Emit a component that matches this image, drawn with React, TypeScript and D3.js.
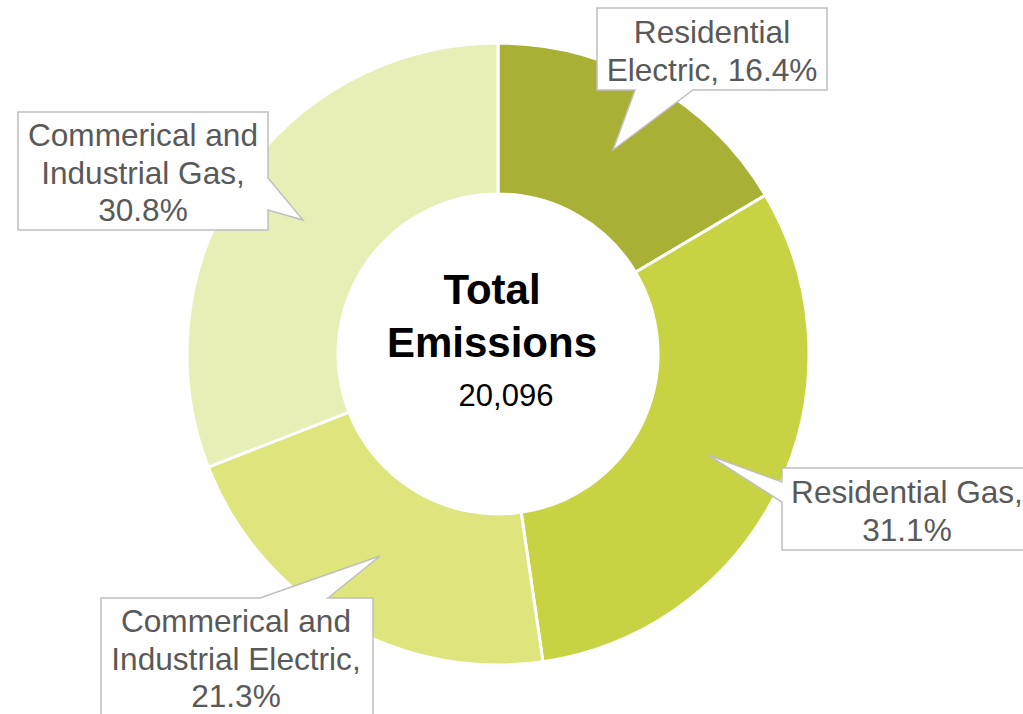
import React from "react";
import * as d3 from "d3";

const categories = [
  "Residential Electric",
  "Residential Gas",
  "Commerical and Industrial Electric",
  "Commerical and Industrial Gas",
];
const shares = [16.4, 31.1, 21.3, 30.8];
const labelLines = [
  ["Residential", "Electric, 16.4%"],
  ["Residential Gas,", "31.1%"],
  ["Commerical and", "Industrial Electric,", "21.3%"],
  ["Commerical and", "Industrial Gas,", "30.8%"],
];
const totalValue = 20096;

const colors = ["#A9B036", "#C7D343", "#DDE57C", "#E8EFB6"];

// callout layout (box + pointer) per slice
const callouts = [
  { path: "M597,8 H827 V90 H693 L613,150 L635,90 H597 Z", cx: 712, y0: 43, },
  { path: "M782,468 H1032 V550 H782 V502 L708,455 L782,482 Z", cx: 907, y0: 503 },
  { path: "M101,598 H260 L380,556 L328,598 H373 V722 H101 Z", cx: 236, y0: 632 },
  { path: "M18,112 H268 V178 L303,220 L268,210 V230 H18 Z", cx: 143, y0: 146 },
];

export default function App() {
  const W = 1023, H = 714;
  const cx = 498, cy = 354, rOuter = 311, rInner = 160;
  const pie = d3.pie<number>().sort(null).value((d) => d);
  const arcs = pie(shares);
  const arc = d3.arc<d3.PieArcDatum<number>>().innerRadius(rInner).outerRadius(rOuter);
  const fmt = d3.format(",");
  const font = "'Liberation Sans', Arial, sans-serif";
  return (
    <div style={{ position: "absolute", left: 0, top: 0 }}>
      <svg width={W} height={H} style={{ display: "block" }} fontFamily={font}>
        <rect width={W} height={H} fill="#fff" />
        <g transform={`translate(${cx},${cy})`}>
          {arcs.map((a, i) => (
            <path key={categories[i]} d={arc(a) || ""} fill={colors[i]} stroke="#fff" strokeWidth={3} />
          ))}
        </g>
        <text x={492} y={304} textAnchor="middle" fontSize={42} fontWeight="bold" fill="#000">Total</text>
        <text x={492} y={357} textAnchor="middle" fontSize={42} fontWeight="bold" fill="#000">Emissions</text>
        <text x={506} y={406} textAnchor="middle" fontSize={31} fill="#000">{fmt(totalValue)}</text>
        {callouts.map((c, i) => (
          <g key={i}>
            <path d={c.path} fill="#fff" stroke="#BFBFBF" strokeWidth={1.5} />
            {labelLines[i].map((t, j) => (
              <text key={j} x={c.cx} y={c.y0 + j * 37.5} textAnchor="middle" fontSize={31.6} fill="#595959">{t}</text>
            ))}
          </g>
        ))}
      </svg>
    </div>
  );
}
